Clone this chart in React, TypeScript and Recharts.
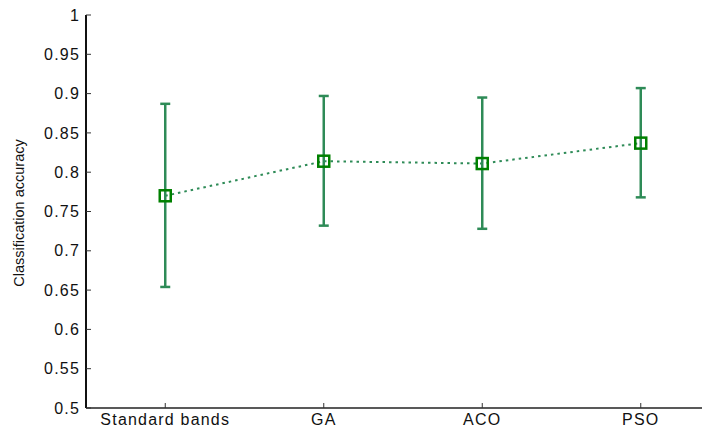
import { ComposedChart, Line, XAxis, YAxis, ErrorBar, Label } from 'recharts'

const categories = ['Standard bands', 'GA', 'ACO', 'PSO']
const meanAccuracy = [0.77, 0.814, 0.811, 0.837]
const upperAccuracy = [0.887, 0.897, 0.895, 0.907]
const lowerAccuracy = [0.654, 0.732, 0.728, 0.768]
const yTicks = [0.5, 0.55, 0.6, 0.65, 0.7, 0.75, 0.8, 0.85, 0.9, 0.95, 1]

const data = categories.map((name, i) => ({
  name,
  mean: meanAccuracy[i],
  err: [meanAccuracy[i] - lowerAccuracy[i], upperAccuracy[i] - meanAccuracy[i]],
}))

const font = 'Liberation Sans, Arial, sans-serif'

function SquareDot(props: any) {
  const { cx, cy } = props
  if (cx == null || cy == null) return null
  return (
    <rect
      x={cx - 5.5}
      y={cy - 5.5}
      width={11}
      height={11}
      fill="none"
      stroke="#008000"
      strokeWidth={2.5}
    />
  )
}

function YLabel() {
  return (
    <text
      x={10.5}
      y={205}
      transform="rotate(-90 10.5 205)"
      textAnchor="middle"
      dominantBaseline="central"
      fontFamily={font}
      fontSize={14.5}
      fill="#111"
    >
      Classification accuracy
    </text>
  )
}

export default function App() {
  return (
    <ComposedChart
      width={740}
      height={432}
      data={data}
      margin={{ top: 7, right: 28, left: 0, bottom: 2 }}
    >
      <XAxis
        dataKey="name"
        xAxisId="top"
        orientation="top"
        scale="band"
        height={0}
        tickFormatter={() => ''}
        tickSize={-4}
        axisLine={{ stroke: '#555', strokeWidth: 1.2 }}
        tickLine={{ stroke: '#444' }}
      />
      <XAxis
        dataKey="name"
        scale="band"
        height={30}
        tickSize={-5}
        tickMargin={11}
        axisLine={{ stroke: '#222', strokeWidth: 1.5 }}
        tickLine={{ stroke: '#333' }}
        tick={{ fill: '#111', fontSize: 16, fontFamily: font, letterSpacing: 1.2 }}
      />
      <YAxis
        domain={[0.5, 1]}
        ticks={yTicks}
        interval={0}
        width={78}
        tickSize={-5}
        tickMargin={11}
        tickFormatter={(v: number) => String(Number(v.toFixed(2)))}
        axisLine={{ stroke: '#111', strokeWidth: 2 }}
        tickLine={{ stroke: '#333' }}
        tick={{ fill: '#111', fontSize: 16, fontFamily: font, letterSpacing: 1.2 }}
      >
        <Label content={<YLabel />} />
      </YAxis>
      <Line
        dataKey="mean"
        xAxisId={0}
        stroke="#2e8b57"
        strokeWidth={2}
        strokeDasharray="2.5 4"
        dot={<SquareDot />}
        activeDot={false}
        isAnimationActive={false}
      >
        <ErrorBar
          dataKey="err"
          direction="y"
          width={5}
          stroke="#2e8b57"
          strokeWidth={2.5}
          isAnimationActive={false}
        />
      </Line>
    </ComposedChart>
  )
}
